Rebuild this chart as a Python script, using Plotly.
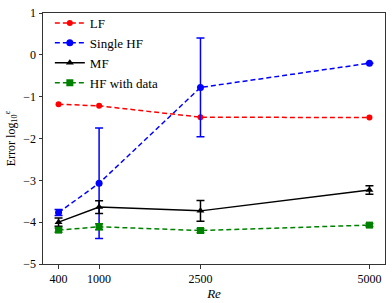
import plotly.graph_objects as go

re_vals = [400, 1000, 2500, 5000]
lf = [-1.18, -1.22, -1.49, -1.50]
single_hf = [-3.77, -3.07, -0.78, -0.20]
single_hf_err = [0.07, 1.32, 1.18, 0.0]
mf = [-4.00, -3.64, -3.73, -3.23]
mf_err = [0.10, 0.15, 0.25, 0.10]
hf_data = [-4.19, -4.11, -4.20, -4.07]
hf_data_err = [0.05, 0.07, 0.05, 0.04]

font = "Liberation Serif"
dash = "5px,3px"
fig = go.Figure()
fig.add_trace(go.Scatter(x=re_vals, y=lf, name="LF", mode="lines+markers",
                         line=dict(color="red", dash=dash, width=1.5),
                         marker=dict(symbol="circle", size=6, color="red")))
fig.add_trace(go.Scatter(x=re_vals, y=single_hf, name="Single HF", mode="lines+markers",
                         line=dict(color="blue", dash=dash, width=1.5),
                         marker=dict(symbol="circle", size=7, color="blue"),
                         error_y=dict(type="data", array=single_hf_err, color="blue", thickness=1.5, width=4)))
fig.add_trace(go.Scatter(x=re_vals, y=mf, name="MF", mode="lines+markers",
                         line=dict(color="black", width=1.5),
                         marker=dict(symbol="triangle-up", size=7, color="black"),
                         error_y=dict(type="data", array=mf_err, color="black", thickness=1.5, width=4)))
fig.add_trace(go.Scatter(x=re_vals, y=hf_data, name="HF with data", mode="lines+markers",
                         line=dict(color="green", dash=dash, width=1.5),
                         marker=dict(symbol="square", size=7, color="green"),
                         error_y=dict(type="data", array=hf_data_err, color="green", thickness=1.5, width=4)))

fig.update_layout(
    width=392, height=303,
    margin=dict(l=43, r=7, t=6, b=33),
    paper_bgcolor="white", plot_bgcolor="white",
    font=dict(family=font, size=12, color="black"),
    showlegend=True,
    legend=dict(x=0.02, y=1.02, xanchor="left", yanchor="top", bgcolor="rgba(255,255,255,0)",
                font=dict(family=font, size=13), tracegroupgap=0, itemwidth=30),
    xaxis=dict(range=[170, 5230], tickvals=re_vals, ticktext=[str(v) for v in re_vals],
               showgrid=False, zeroline=False, showline=True, mirror=True, linecolor="#333",
               linewidth=1, ticks="outside", ticklen=3.5, tickcolor="#333",
               title=dict(text="<i>Re</i>", standoff=2, font=dict(family=font, size=13))),
    yaxis=dict(range=[-5, 1], tickvals=[-5, -4, -3, -2, -1, 0, 1],
               showgrid=False, zeroline=False, showline=True, mirror=True, linecolor="#333",
               linewidth=1, ticks="outside", ticklen=3.5, tickcolor="#333",
               title=dict(text="Error log<sub>10</sub><sup>ε</sup>", standoff=5, font=dict(family=font, size=12))),
)
fig.write_html("out.html", config={"displayModeBar": False},
               post_script="document.body.style.margin='0';document.body.style.padding='0';")
